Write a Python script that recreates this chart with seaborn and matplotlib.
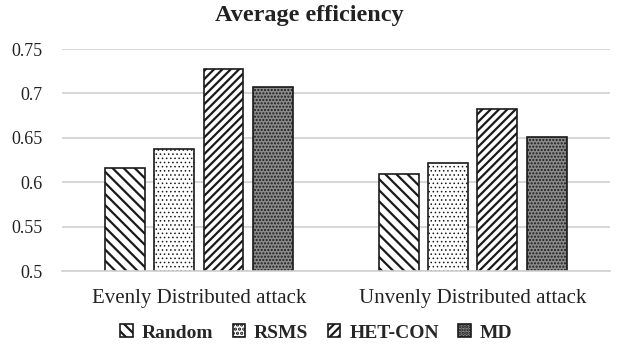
import numpy as np
import pandas as pd
import matplotlib
matplotlib.use('Agg')
import matplotlib.pyplot as plt
import seaborn as sns

# values
attacks = ['Evenly Distributed attack', 'Unvenly Distributed attack']
methods = ['Random', 'RSMS', 'HET-CON', 'MD']
random_eff = [0.616, 0.609]
rsms_eff = [0.637, 0.622]
hetcon_eff = [0.727, 0.682]
md_eff = [0.707, 0.651]
yticks = [0.5, 0.55, 0.6, 0.65, 0.7, 0.75]
ytick_labels = ['0.5', '0.55', '0.6', '0.65', '0.7', '0.75']

rows = []
for name, vals in zip(methods, [random_eff, rsms_eff, hetcon_eff, md_eff]):
    for a, v in zip(attacks, vals):
        rows.append({'Attack': a, 'Method': name, 'Efficiency': v})
df = pd.DataFrame(rows)

sns.set_style('white')
plt.rcParams['font.family'] = ['Liberation Serif', 'DejaVu Serif']
plt.rcParams['hatch.linewidth'] = 1.6

fig = plt.figure(figsize=(6.19, 3.58), dpi=100)
ax = fig.add_axes([0.100, 0.243, 0.885, 0.620])

sns.barplot(data=df, x='Attack', y='Efficiency', hue='Method', order=attacks,
            hue_order=methods, width=0.72, gap=0.19, legend=False, ax=ax,
            edgecolor='#1a1a1a', linewidth=1.2)

# face colour, hatch, hatch line width
styles = [('white', '\\\\\\', 1.6), ('white', '....', 0.6),
          ('white', '////', 1.6), ('#8a8a8a', '.....', 1.0)]
for cont, (fc, h, hlw) in zip(ax.containers, styles):
    for p in cont.patches:
        p.set_facecolor(fc)
        p.set_hatch(h)
        p.set_edgecolor('#1a1a1a')
        if hasattr(p, 'set_hatch_linewidth'):
            p.set_hatch_linewidth(hlw)

ax.set_ylim(0.5, 0.75)
ax.set_xlim(-0.5, 1.5)
ax.set_yticks(yticks)
ax.set_yticklabels(ytick_labels)
ax.yaxis.grid(True, color='#d0d0d0', linewidth=1.2)
ax.set_axisbelow(True)
for s in ['top', 'right', 'left']:
    ax.spines[s].set_visible(False)
ax.spines['bottom'].set_color('#d0d0d0')
ax.spines['bottom'].set_linewidth(1.2)
ax.tick_params(axis='both', length=0, colors='#222222')
ax.tick_params(axis='y', labelsize=13, pad=14)
ax.tick_params(axis='x', labelsize=15, pad=13)
ax.set_xlabel('')
ax.set_ylabel('')

fig.suptitle('Average efficiency', fontsize=17.5, fontweight='bold', y=0.985, color='#222222')

leg = fig.legend(ax.containers, methods, loc='center', bbox_to_anchor=(0.511, 0.07),
                 ncol=4, frameon=False, handlelength=0.65, handleheight=0.65,
                 handletextpad=0.45, columnspacing=1.0,
                 prop={'weight': 'bold', 'size': 14})

fig.savefig('out.png', dpi=100)
